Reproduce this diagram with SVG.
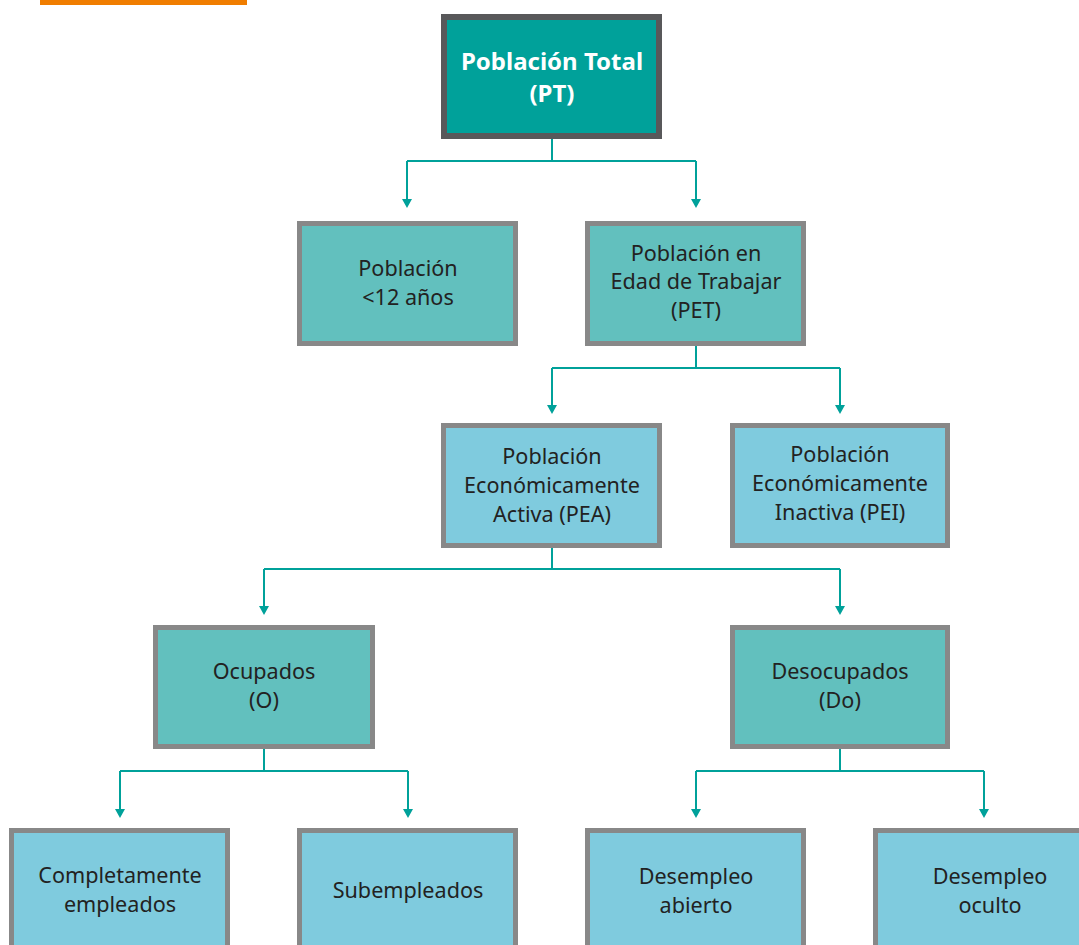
<svg xmlns="http://www.w3.org/2000/svg" width="1079" height="945" viewBox="0 0 1079 945">
<style>
.box{stroke:#888888;stroke-width:5}
.teal{fill:#62C0BE}
.blue{fill:#7FCBDE}
.top{fill:#00A19A;stroke:#58585A;stroke-width:6}
.t{font-family:"Noto Sans","DejaVu Sans",sans-serif;font-size:21.6px;fill:#222;text-anchor:middle}
.tb{font-family:"Noto Sans","DejaVu Sans",sans-serif;font-size:24px;font-weight:bold;fill:#fff;text-anchor:middle}
.c{fill:none;stroke:#00A19A;stroke-width:2}
.a{fill:#00A19A}
</style>
<rect x="40" y="0" width="207" height="5" fill="#F07D00"/>
<g id="connectors">
<path class="c" d="M552,139 V161 M407,161 H696 M407,161 V200 M696,161 V200"/>
<path class="a" d="M402,199 L412,199 L407,208 Z M691,199 L701,199 L696,208 Z"/>
<path class="c" d="M696,346 V368 M552,368 H840 M552,368 V406 M840,368 V406"/>
<path class="a" d="M547,405 L557,405 L552,414 Z M835,405 L845,405 L840,414 Z"/>
<path class="c" d="M552,548 V569 M264,569 H840 M264,569 V607 M840,569 V607"/>
<path class="a" d="M259,606 L269,606 L264,615 Z M835,606 L845,606 L840,615 Z"/>
<path class="c" d="M264,749 V771 M120,771 H408 M120,771 V810 M408,771 V810"/>
<path class="a" d="M115,809 L125,809 L120,818 Z M403,809 L413,809 L408,818 Z"/>
<path class="c" d="M840,749 V771 M696,771 H984 M696,771 V810 M984,771 V810"/>
<path class="a" d="M691,809 L701,809 L696,818 Z M979,809 L989,809 L984,818 Z"/>
</g>
<g id="pt">
<rect class="top" x="444" y="17" width="215" height="119"/>
<text class="tb" x="552" y="70">Población Total</text>
<text class="tb" x="552" y="102">(PT)</text>
</g>
<g id="menores">
<rect class="box teal" x="299.5" y="223.5" width="216" height="120"/>
<text class="t" x="408" y="276">Población</text>
<text class="t" x="408" y="305">&lt;12 años</text>
</g>
<g id="pet">
<rect class="box teal" x="587.5" y="223.5" width="216" height="120"/>
<text class="t" x="696" y="261">Población en</text>
<text class="t" x="696" y="289">Edad de Trabajar</text>
<text class="t" x="696" y="318">(PET)</text>
</g>
<g id="pea">
<rect class="box blue" x="443.5" y="425.5" width="216" height="120"/>
<text class="t" x="552" y="464">Población</text>
<text class="t" x="552" y="493">Económicamente</text>
<text class="t" x="552" y="522">Activa (PEA)</text>
</g>
<g id="pei">
<rect class="box blue" x="732.5" y="425.5" width="215" height="120"/>
<text class="t" x="840" y="462">Población</text>
<text class="t" x="840" y="491">Económicamente</text>
<text class="t" x="840" y="520">Inactiva (PEI)</text>
</g>
<g id="ocupados">
<rect class="box teal" x="155.5" y="627.5" width="217" height="119"/>
<text class="t" x="264" y="679">Ocupados</text>
<text class="t" x="264" y="708">(O)</text>
</g>
<g id="desocupados">
<rect class="box teal" x="732.5" y="627.5" width="215" height="119"/>
<text class="t" x="840" y="679">Desocupados</text>
<text class="t" x="840" y="708">(Do)</text>
</g>
<g id="completos">
<rect class="box blue" x="11.5" y="830.5" width="216" height="130"/>
<text class="t" x="120" y="883">Completamente</text>
<text class="t" x="120" y="912">empleados</text>
</g>
<g id="subempleados">
<rect class="box blue" x="299.5" y="830.5" width="216" height="130"/>
<text class="t" x="408" y="898">Subempleados</text>
</g>
<g id="abierto">
<rect class="box blue" x="587.5" y="830.5" width="216" height="130"/>
<text class="t" x="696" y="884">Desempleo</text>
<text class="t" x="696" y="913">abierto</text>
</g>
<g id="oculto">
<rect class="box blue" x="875.5" y="830.5" width="216" height="130"/>
<text class="t" x="990" y="884">Desempleo</text>
<text class="t" x="990" y="913">oculto</text>
</g>
</svg>
